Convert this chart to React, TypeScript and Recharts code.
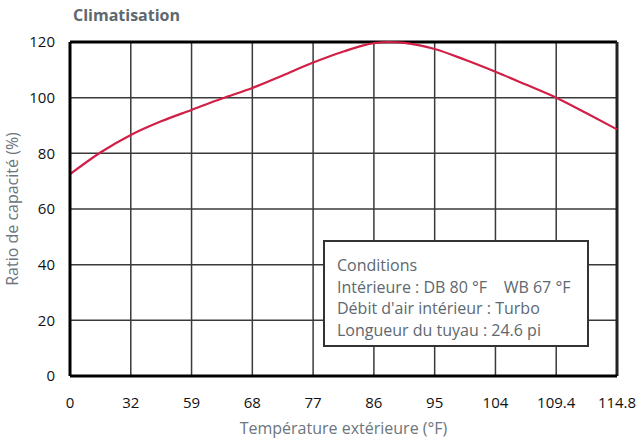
import { LineChart, Line, XAxis, YAxis, CartesianGrid, ReferenceLine } from 'recharts';

// outdoor temperature categories (°F), evenly spaced on the chart
const tempLabels = ['0', '32', '59', '68', '77', '86', '95', '104', '109.4', '114.8'];
// position along the axis (category index) and capacity ratio
const curveX = [0, 0.5, 1, 1.5, 2, 2.5, 3, 3.5, 4, 4.5, 5, 5.25, 5.5, 6, 6.5, 7, 7.5, 8, 8.5, 9];
const capacity = [72.5, 80.3, 86.6, 91.5, 95.6, 99.7, 103.5, 108, 112.6, 116.6, 119.6, 120, 119.7, 117.5, 113.6, 109.3, 104.7, 100, 94.4, 88.6];
const yTicks = [0, 20, 40, 60, 80, 100, 120];
const conditions = ['Conditions', 'Intérieure : DB 80 °F    WB 67 °F', "Débit d'air intérieur : Turbo", 'Longueur du tuyau : 24.6 pi'];

const FONT = '"Open Sans", "Noto Sans", sans-serif';

export default function App() {
  const data = curveX.map((x, i) => ({ x, cap: capacity[i] }));

  return (
    <div style={{ position: 'absolute', left: 0, top: 0, width: 637, height: 440, background: '#fff', fontFamily: FONT }}>
      <div style={{ position: 'absolute', left: 73, top: 4, fontSize: 16, fontWeight: 700, color: '#5d6870' }}>
        Climatisation
      </div>
      <LineChart width={637} height={440} data={data} margin={{ top: 42, right: 20, bottom: 0, left: 0 }}>
        <CartesianGrid stroke="#3a3a3a" strokeWidth={1.5} />
        <XAxis
          dataKey="x"
          type="number"
          domain={[0, 9]}
          ticks={tempLabels.map((_, i) => i)}
          tickFormatter={(v: number) => tempLabels[v]}
          height={64}
          tickLine={false}
          tickMargin={15}
          axisLine={{ stroke: '#000', strokeWidth: 3 }}
          tick={{ fill: '#111', fontSize: 15, fontFamily: FONT }}
          label={{ value: 'Température extérieure (°F)', position: 'insideBottom', offset: 6, fill: '#6b757c', fontSize: 16, fontFamily: FONT }}
        />
        <YAxis
          type="number"
          domain={[0, 120]}
          ticks={yTicks}
          width={70}
          tickLine={false}
          tickMargin={9}
          axisLine={{ stroke: '#000', strokeWidth: 3 }}
          tick={{ fill: '#111', fontSize: 15, fontFamily: FONT }}
          label={{ value: 'Ratio de capacité (%)', angle: -90, position: 'insideLeft', offset: 12, fill: '#6b757c', fontSize: 16, fontFamily: FONT, style: { textAnchor: 'middle' } }}
        />
        <ReferenceLine y={120} stroke="#000" strokeWidth={3} />
        <ReferenceLine x={9} stroke="#222" strokeWidth={3} />
        <Line type="monotone" dataKey="cap" stroke="#d21f45" strokeWidth={2.2} dot={false} isAnimationActive={false} />
      </LineChart>
      <div
        style={{
          position: 'absolute',
          left: 323,
          top: 240,
          width: 266,
          height: 107,
          border: '2px solid #333',
          background: '#fff',
          color: '#5d6870',
          fontSize: 16,
          lineHeight: '21.5px',
          padding: '13px 0 0 12px',
          boxSizing: 'border-box',
          whiteSpace: 'pre',
        }}
      >
        {conditions.map((c) => (
          <div key={c}>{c}</div>
        ))}
      </div>
    </div>
  );
}
